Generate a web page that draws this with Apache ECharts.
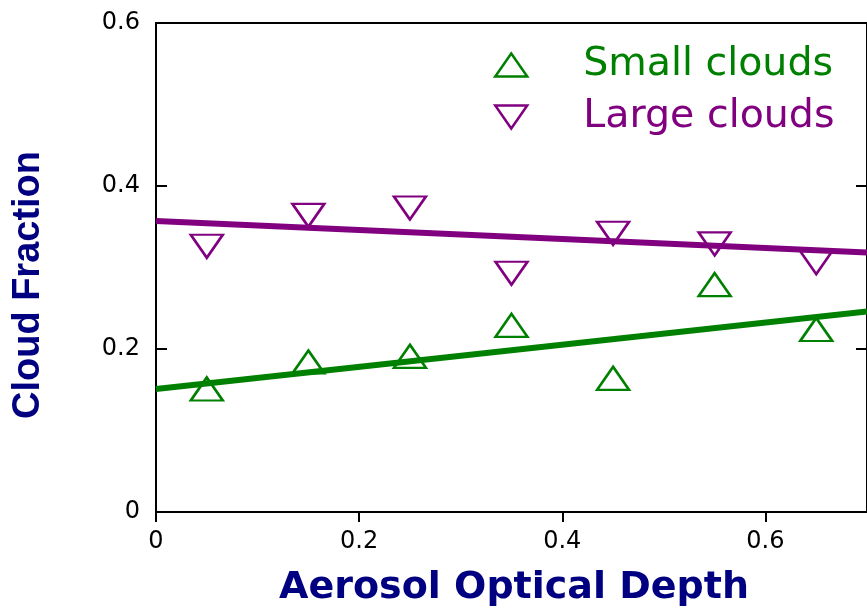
<html>
    <head>
        <meta charset="utf-8">
        <script src="https://cdn.jsdelivr.net/npm/echarts@6/dist/echarts.min.js"></script>
    </head>
    <body>
        <style>
            html, body, #main {
                width: 100%;
                height: 100%;
                margin: 0;
                background: #fff;
            }
        </style>
        <div id='main'></div>
        <script>
            // aerosol optical depth bins
            var aod = [0.05, 0.15, 0.25, 0.35, 0.45, 0.55, 0.65];
            var smallClouds = [0.151, 0.184, 0.191, 0.229, 0.164, 0.279, 0.224];
            var largeClouds = [0.326, 0.364, 0.373, 0.293, 0.342, 0.329, 0.306];
            // linear fits, read at both ends of the x range
            var fitX = [0, 0.7];
            var smallFit = [0.151, 0.246];
            var largeFit = [0.357, 0.3185];
            var xTicks = [0, 0.2, 0.4, 0.6];
            var yTicks = [0, 0.2, 0.4, 0.6];

            var green = '#008000', purple = '#800080', navy = '#000080';

            function pairs(xs, ys) {
                return xs.map(function (x, i) { return [x, ys[i]]; });
            }

            var chart = echarts.init(document.getElementById('main'));
            var option = {
                animation: false,
                grid: { left: 156, right: -10, top: 23, bottom: 98 },
                legend: {
                    orient: 'vertical',
                    left: 489,
                    top: 40,
                    itemWidth: 32,
                    itemHeight: 23,
                    itemGap: 12,
                    textStyle: { fontFamily: 'DejaVu Sans', fontSize: 39.5, lineHeight: 40, padding: [0, 0, 0, 51] },
                    data: [
                        { name: 'Small clouds', icon: 'triangle',
                          itemStyle: { color: 'rgba(0,0,0,0)', borderColor: green, borderWidth: 2.5 },
                          textStyle: { color: green } },
                        { name: 'Large clouds', icon: 'path://M0,0 L2,0 L1,1.44 Z',
                          itemStyle: { color: 'rgba(0,0,0,0)', borderColor: purple, borderWidth: 2.5 },
                          textStyle: { color: purple } }
                    ]
                },
                xAxis: [{
                    type: 'value', min: 0, max: 0.7, interval: 0.2,
                    axisLine: { onZero: false, lineStyle: { color: '#000', width: 2 } },
                    axisTick: { inside: false, length: 10, lineStyle: { color: '#000', width: 2 } },
                    axisLabel: { showMaxLabel: false, margin: 18, color: '#000', fontFamily: 'DejaVu Sans', fontSize: 24,
                                 formatter: function (v) { return xTicks.indexOf(v) >= 0 ? String(v) : ''; } },
                    splitLine: { show: false }
                }, {
                    type: 'value', position: 'top', min: 0, max: 0.7, interval: 0.2,
                    axisLine: { show: true, onZero: false, lineStyle: { color: '#000', width: 2 } },
                    axisTick: { show: false }, axisLabel: { show: false }, splitLine: { show: false }
                }],
                yAxis: [{
                    type: 'value', min: 0, max: 0.6, interval: 0.2,
                    axisLine: { show: true, onZero: false, lineStyle: { color: '#000', width: 2 } },
                    axisTick: { show: true, inside: true, length: 11, lineStyle: { color: '#000', width: 2 } },
                    axisLabel: { margin: 16, color: '#000', fontFamily: 'DejaVu Sans', fontSize: 24,
                                 formatter: function (v) { return yTicks.indexOf(v) >= 0 ? String(v) : ''; } },
                    splitLine: { show: false }
                }, {
                    type: 'value', position: 'right', min: 0, max: 0.6, interval: 0.2,
                    axisLine: { show: true, onZero: false, lineStyle: { color: '#000', width: 2 } },
                    axisTick: { show: true, inside: true, length: 11, lineStyle: { color: '#000', width: 2 } },
                    axisLabel: { show: false }, splitLine: { show: false }
                }],
                graphic: [{
                    type: 'text', x: 514, y: 588,
                    style: { text: 'Aerosol Optical Depth', fill: navy, fontFamily: 'DejaVu Sans', fontWeight: 'bold',
                             fontSize: 38, textAlign: 'center', textVerticalAlign: 'middle' }
                }, {
                    type: 'text', x: 29, y: 285, rotation: Math.PI / 2,
                    style: { text: 'Cloud Fraction', fill: navy, fontFamily: 'Liberation Sans', fontWeight: 'bold',
                             fontSize: 38, textAlign: 'center', textVerticalAlign: 'middle' }
                }],
                series: [{
                    name: 'Small clouds', type: 'scatter', z: 2,
                    symbol: 'triangle', symbolSize: [32, 23],
                    itemStyle: { color: 'rgba(0,0,0,0)', borderColor: green, borderWidth: 2.5, opacity: 1 },
                    data: pairs(aod, smallClouds)
                }, {
                    name: 'Large clouds', type: 'scatter', z: 2,
                    symbol: 'triangle', symbolSize: [32, 23], symbolRotate: 180,
                    itemStyle: { color: 'rgba(0,0,0,0)', borderColor: purple, borderWidth: 2.5, opacity: 1 },
                    data: pairs(aod, largeClouds)
                }, {
                    name: 'Small fit', type: 'line', z: 3, showSymbol: false, silent: true,
                    lineStyle: { color: green, width: 6 },
                    data: pairs(fitX, smallFit)
                }, {
                    name: 'Large fit', type: 'line', z: 3, showSymbol: false, silent: true,
                    lineStyle: { color: purple, width: 6 },
                    data: pairs(fitX, largeFit)
                }]
            };
            chart.setOption(option);
            window.onresize = chart.resize;
        </script>
    </body>
</html>
